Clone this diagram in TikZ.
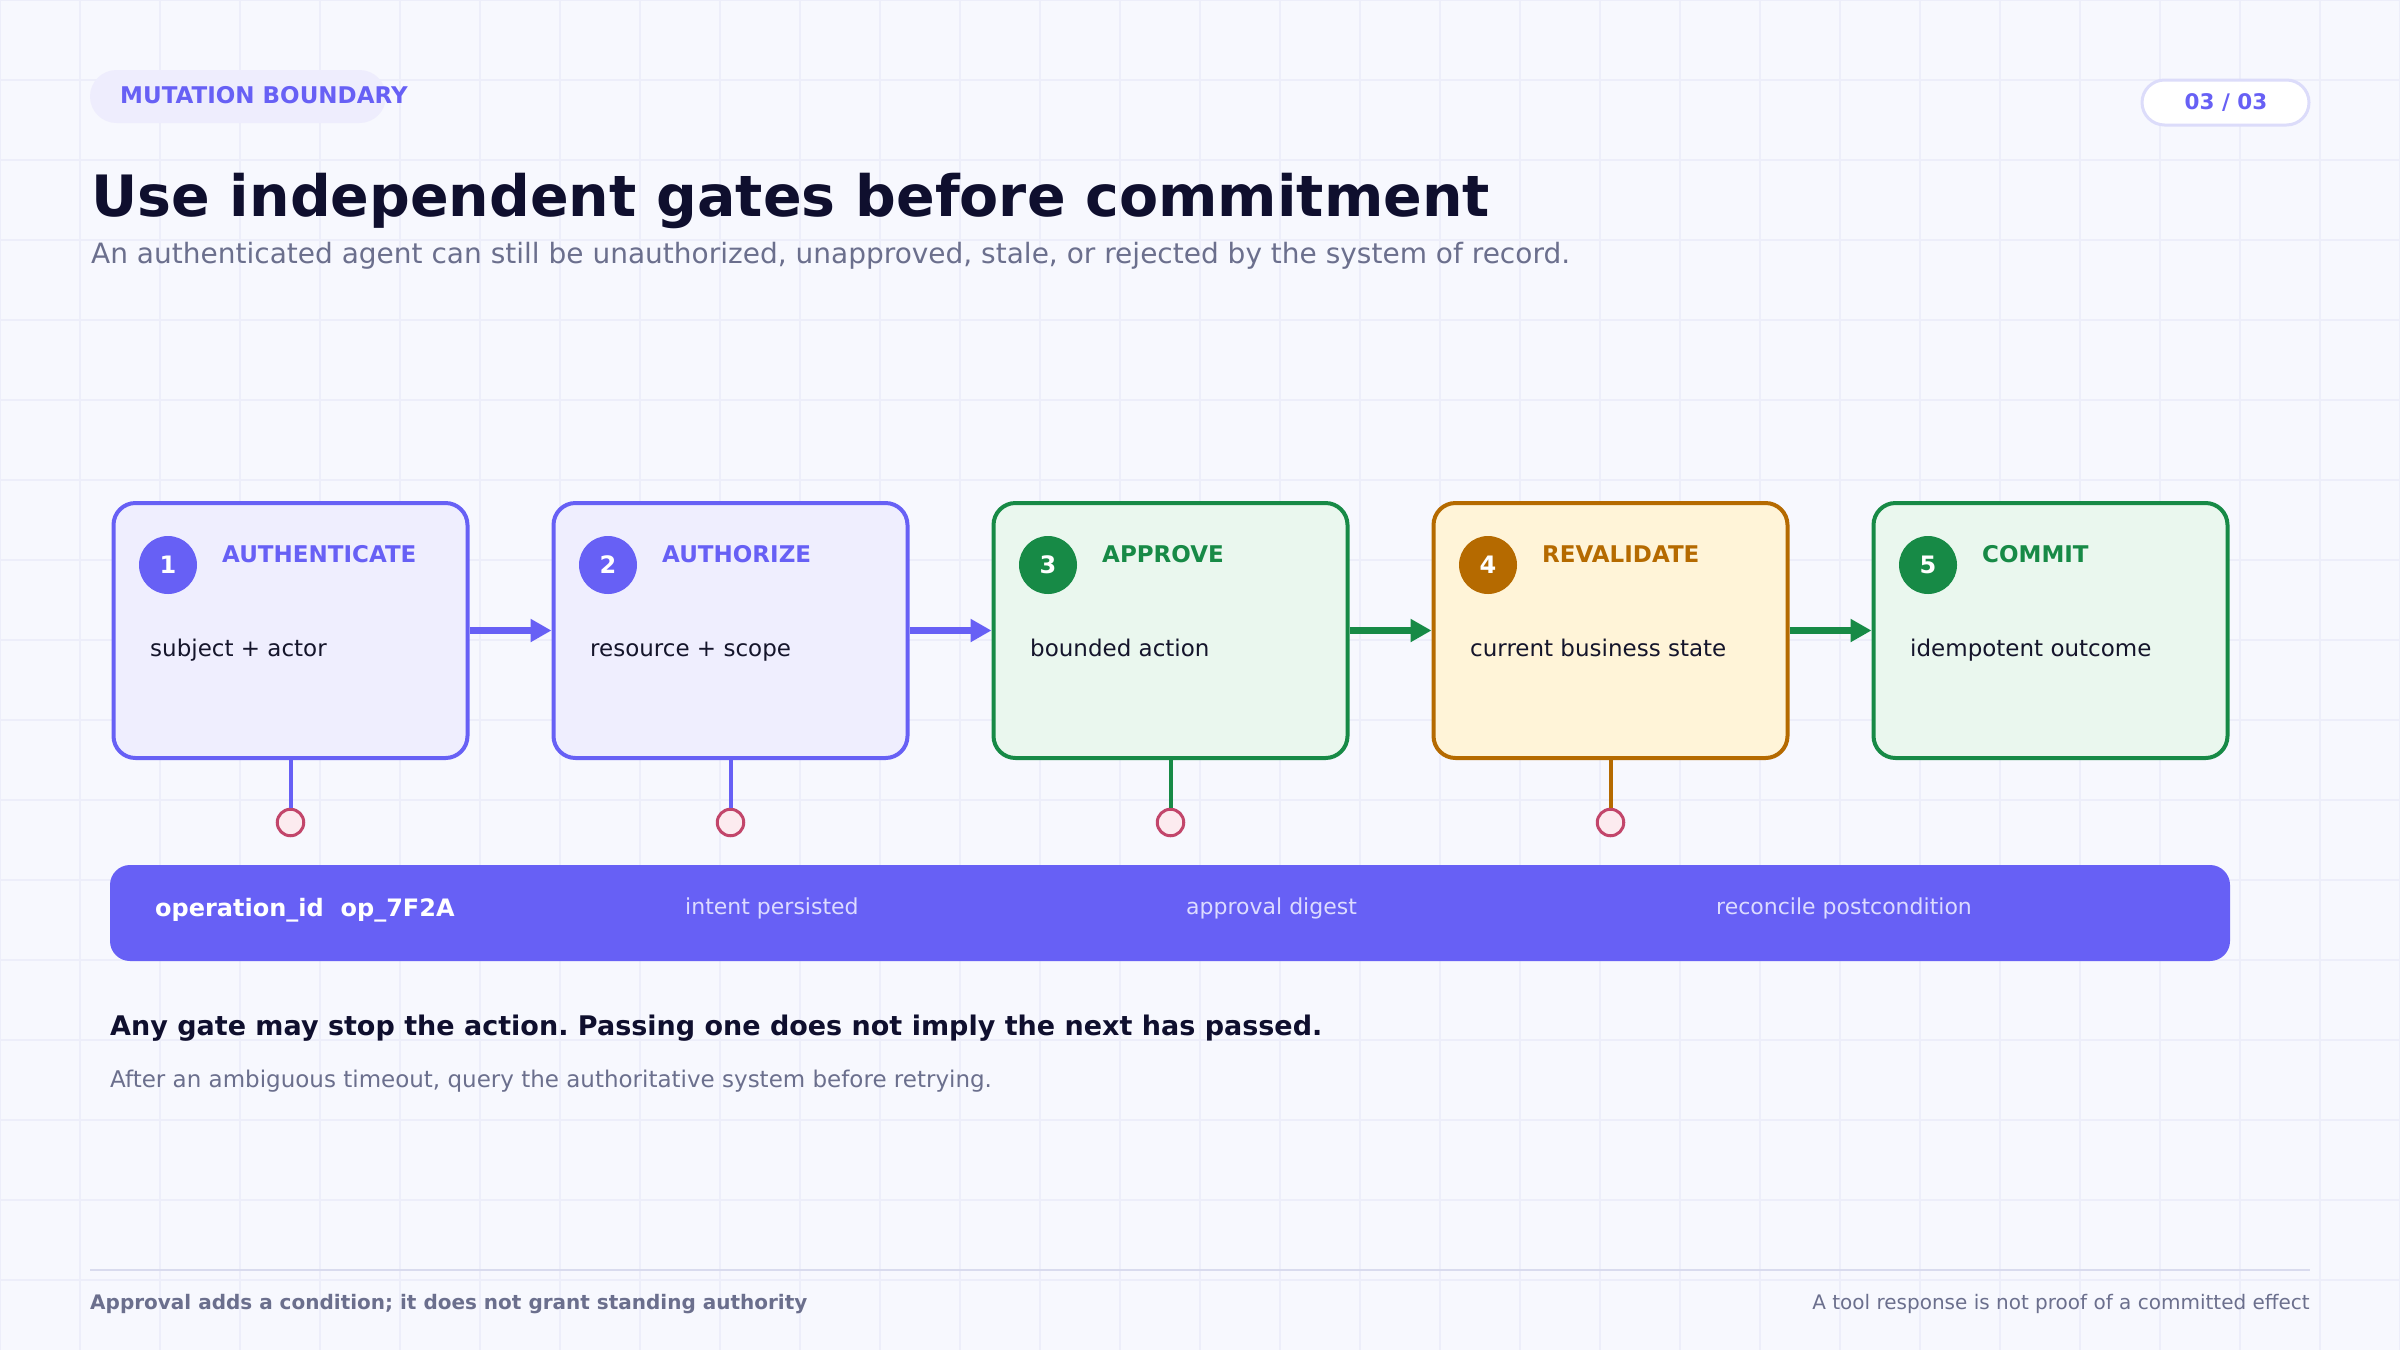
\documentclass[tikz,border=0pt]{standalone}
\usepackage{fontspec}
\setmainfont{DejaVu Sans}
\usetikzlibrary{arrows.meta}
\frenchspacing
\definecolor{bg}{HTML}{F7F8FE}
\definecolor{gridc}{HTML}{EDEEFA}
\definecolor{pur}{HTML}{6760F5}
\definecolor{purfill}{HTML}{EFEEFE}
\definecolor{grn}{HTML}{178A46}
\definecolor{grnfill}{HTML}{EAF7EE}
\definecolor{org}{HTML}{B56A00}
\definecolor{orgfill}{HTML}{FFF4D8}
\definecolor{ink}{HTML}{0F0F2E}
\definecolor{bodyc}{HTML}{15152B}
\definecolor{muted}{HTML}{6B6F8D}
\definecolor{pinkst}{HTML}{C2466B}
\definecolor{pinkfill}{HTML}{FCEBEF}
\definecolor{barlbl}{HTML}{DCDBFF}
\definecolor{tagfill}{HTML}{EEEDFD}
\definecolor{pillst}{HTML}{DCDCFA}
\definecolor{rulec}{HTML}{D9DBEE}
\newcommand{\myfs}[1]{\fontsize{#1}{#1}\selectfont}
\begin{document}
\frenchspacing
\begin{tikzpicture}[x=1pt,y=-1pt,
  gatebox/.style={draw, line width=4pt, rounded corners=22pt, minimum width=354pt, minimum height=255pt, inner sep=0pt},
  numdot/.style={circle, minimum size=58pt, inner sep=0pt, text=white, font=\myfs{24}\bfseries},
  head/.style={anchor=base west, inner sep=0pt, font=\myfs{23}\bfseries},
  bodytxt/.style={anchor=base west, inner sep=0pt, text=bodyc, font=\myfs{23}},
  flow/.style={line width=7.5pt, -{Triangle[length=21pt,width=22pt]}},
  stem/.style={line width=4pt},
  probe/.style={circle, draw=pinkst, fill=pinkfill, line width=3pt, minimum size=26.5pt, inner sep=0pt},
  txt/.style={inner sep=0pt, anchor=base west},
  gridline/.style={draw=gridc, line width=1.5pt}
]
\useasboundingbox (0,0) rectangle (2400,1350);
\fill[bg] (0,0) rectangle (2400,1350);
\foreach \gx in {0,80,...,2400} \draw[gridline] (\gx,0) -- (\gx,1350);
\foreach \gy in {0,80,...,1350} \draw[gridline] (0,\gy) -- (2400,\gy);

% header
\node[rounded corners=26.5pt, minimum width=296pt, minimum height=53pt, fill=tagfill, inner sep=0pt] (tag) at (238,96.5) {};
\node[txt, text=pur, font=\myfs{23}\bfseries] (tagtxt) at (120,103) {MUTATION BOUNDARY};
\node[rounded corners=22.5pt, minimum width=167pt, minimum height=45pt, draw=pillst, line width=3pt, fill=white, inner sep=0pt] (pg) at (2225.5,102.5) {};
\node[inner sep=0pt, anchor=base, text=pur, font=\myfs{21.5}\bfseries] (pgtxt) at (2226,109) {03 / 03};
\node[txt, text=ink, font=\myfs{57}\bfseries] (title) at (91,216) {Use independent gates before commitment};
\node[txt, text=muted, font=\myfs{28}] (sub) at (91,263) {An authenticated agent can still be unauthorized, unapproved, stale, or rejected by the system of record.};

% boxes
\node[gatebox, draw=pur, fill=purfill] (b1) at (290.5,630.5) {};
\node[gatebox, draw=pur, fill=purfill] (b2) at (730.5,630.5) {};
\node[gatebox, draw=grn, fill=grnfill] (b3) at (1170.5,630.5) {};
\node[gatebox, draw=org, fill=orgfill] (b4) at (1610.5,630.5) {};
\node[gatebox, draw=grn, fill=grnfill] (b5) at (2050.5,630.5) {};

\draw[flow, pur] (b1.east) -- (b2.west);
\draw[flow, pur] (b2.east) -- (b3.west);
\draw[flow, grn] (b3.east) -- (b4.west);
\draw[flow, grn] (b4.east) -- (b5.west);

\node[numdot, fill=pur] (n1) at (168,565) {1};
\node[numdot, fill=pur] (n2) at (608,565) {2};
\node[numdot, fill=grn] (n3) at (1048,565) {3};
\node[numdot, fill=org] (n4) at (1488,565) {4};
\node[numdot, fill=grn] (n5) at (1928,565) {5};

\node[head, text=pur] (h1) at (222,562) {AUTHENTICATE};
\node[head, text=pur] (h2) at (662,562) {AUTHORIZE};
\node[head, text=grn] (h3) at (1102,562) {APPROVE};
\node[head, text=org] (h4) at (1542,562) {REVALIDATE};
\node[head, text=grn] (h5) at (1982,562) {COMMIT};

\node[bodytxt] (t1) at (150,656) {subject + actor};
\node[bodytxt] (t2) at (590,656) {resource + scope};
\node[bodytxt] (t3) at (1030,656) {bounded action};
\node[bodytxt] (t4) at (1470,656) {current business state};
\node[bodytxt] (t5) at (1910,656) {idempotent outcome};

% probes
\node[probe] (p1) at (290.5,822.5) {};
\node[probe] (p2) at (730.5,822.5) {};
\node[probe] (p3) at (1170.5,822.5) {};
\node[probe] (p4) at (1610.5,822.5) {};
\draw[stem, pur] (b1.south) -- (p1.north);
\draw[stem, pur] (b2.south) -- (p2.north);
\draw[stem, grn] (b3.south) -- (p3.north);
\draw[stem, org] (b4.south) -- (p4.north);

% bar
\node[rounded corners=20pt, minimum width=2120pt, minimum height=96pt, fill=pur, inner sep=0pt] (bar) at (1170,913) {};
\node[txt, text=white, font=\myfs{24}\bfseries] (opid) at (155,916) {operation\_id\ \ op\_7F2A};
\node[txt, text=barlbl, font=\myfs{22}] (l1) at (685,914) {intent persisted};
\node[txt, text=barlbl, font=\myfs{22}] (l2) at (1186,914) {approval digest};
\node[txt, text=barlbl, font=\myfs{22}] (l3) at (1716,914) {reconcile postcondition};

% notes
\node[txt, text=ink, font=\myfs{27}\bfseries] (note1) at (110,1035) {Any gate may stop the action. Passing one does not imply the next has passed.};
\node[txt, text=muted, font=\myfs{23}] (note2) at (110,1087) {After an ambiguous timeout, query the authoritative system before retrying.};

% footer
\coordinate (fl) at (90,1270);
\coordinate (fr) at (2310,1270);
\draw[rulec, line width=2pt] (fl) -- (fr);
\node[txt, text=muted, font=\myfs{20}\bfseries] (foot1) at (90,1309) {Approval adds a condition; it does not grant standing authority};
\node[inner sep=0pt, anchor=base east, text=muted, font=\myfs{20}] (foot2) at (2310,1309) {A tool response is not proof of a committed effect};
\end{tikzpicture}
\end{document}
